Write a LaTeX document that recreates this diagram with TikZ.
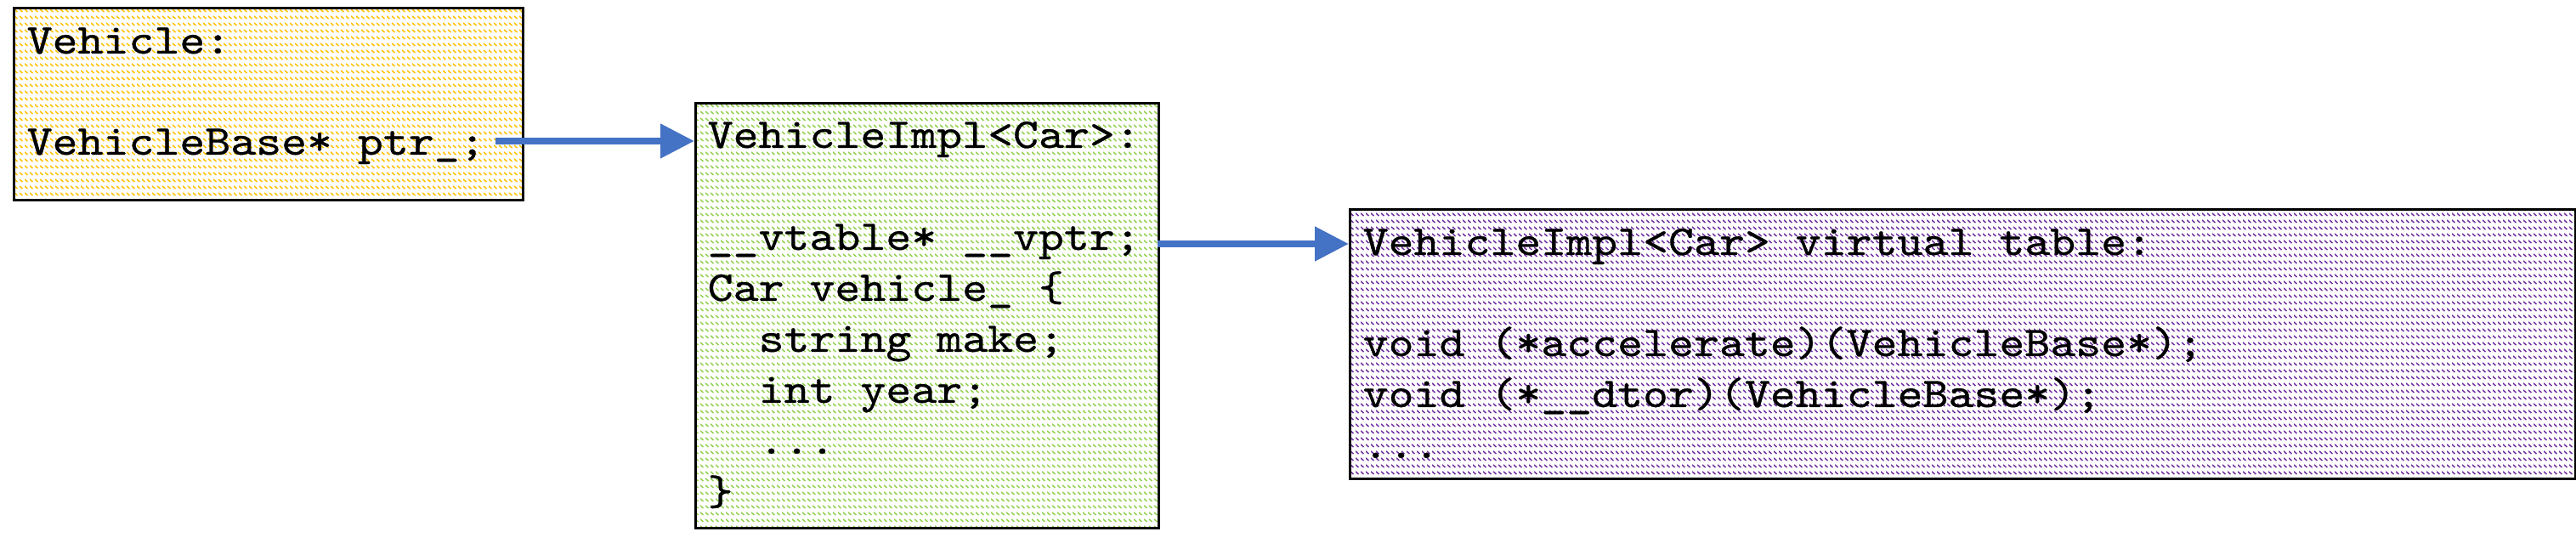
\documentclass[tikz,border=0pt]{standalone}
\usepackage{fontspec}
\setmonofont{lmmono10-regular.otf}[FakeStretch=1.143,FakeBold=0.6]
\usetikzlibrary{arrows.meta,patterns}

\definecolor{hatchyellow}{HTML}{FFC000}
\definecolor{hatchgreen}{HTML}{92D050}
\definecolor{hatchpurple}{HTML}{7030A0}
\definecolor{linkblue}{HTML}{4472C4}

\pgfdeclarepatternformonly{codehatch}{\pgfpointorigin}{\pgfpoint{1.7pt}{2.28pt}}{\pgfpoint{1.7pt}{2.28pt}}{%
    \pgfsetlinewidth{0.45pt}%
    \pgfpathmoveto{\pgfpoint{0pt}{1.3pt}}%
    \pgfpathlineto{\pgfpoint{1.0pt}{0.3pt}}%
    \pgfusepath{stroke}%
}

\begin{document}
\begin{tikzpicture}

    \tikzset{
        box/.style={
            draw,
            rectangle,
            line width=0.03cm,
            anchor=north west,
            inner sep=0pt,
            pattern=codehatch
        },
        code/.style={
            anchor=base west,
            inner sep=0pt,
            font=\ttfamily\fontsize{14.2}{17}\selectfont
        },
        link/.style={
            draw=linkblue,
            line width=0.08cm,
            -{Triangle[length=0.4cm,width=0.39cm]}
        }
    }

    \useasboundingbox (0,0) rectangle (30.31,-6.39);

    % boxes
    \node[box, pattern color=hatchyellow, minimum width=5.99cm, minimum height=2.26cm] (vehicle) at (0.15,-0.08) {};
    \node[box, pattern color=hatchgreen, minimum width=5.45cm, minimum height=5.00cm] (impl) at (8.17,-1.20) {};
    \node[box, pattern color=hatchpurple, minimum width=14.42cm, minimum height=3.17cm] (vtable) at (15.87,-2.45) {};

    % Vehicle
    \node[code] (vehname) at (0.31,-0.63) {Vehicle:};
    \node[code] (vehptr)  at (0.31,-1.82) {VehicleBase* ptr\_;};

    % VehicleImpl<Car>
    \node[code] (implname) at (8.32,-1.74) {VehicleImpl<Car>:};
    \node[code] (vptr)     at (8.32,-2.94) {\_\_vtable* \_\_vptr;};
    \node[code] (member)   at (8.32,-3.54) {Car vehicle\_ \{};
    \node[code] (make)     at (8.92,-4.14) {string make;};
    \node[code] (year)     at (8.92,-4.74) {int year;};
    \node[code] (implmore) at (8.92,-5.34) {...};
    \node[code] (close)    at (8.32,-5.94) {\}};

    % virtual table
    \node[code] (vtname) at (16.03,-3.00) {VehicleImpl<Car> virtual table:};
    \node[code] (accel)  at (16.03,-4.19) {void (*accelerate)(VehicleBase*);};
    \node[code] (dtor)   at (16.03,-4.79) {void (*\_\_dtor)(VehicleBase*);};
    \node[code] (vtmore) at (16.03,-5.39) {...};

    % pointers
    \coordinate (ptrout)  at (5.83,-1.66);
    \coordinate (vptrout) at (13.62,-2.87);

    \draw[link] (ptrout) -- (ptrout -| impl.west);
    \draw[link] (vptrout) -- (vptrout -| vtable.west);

\end{tikzpicture}
\end{document}
